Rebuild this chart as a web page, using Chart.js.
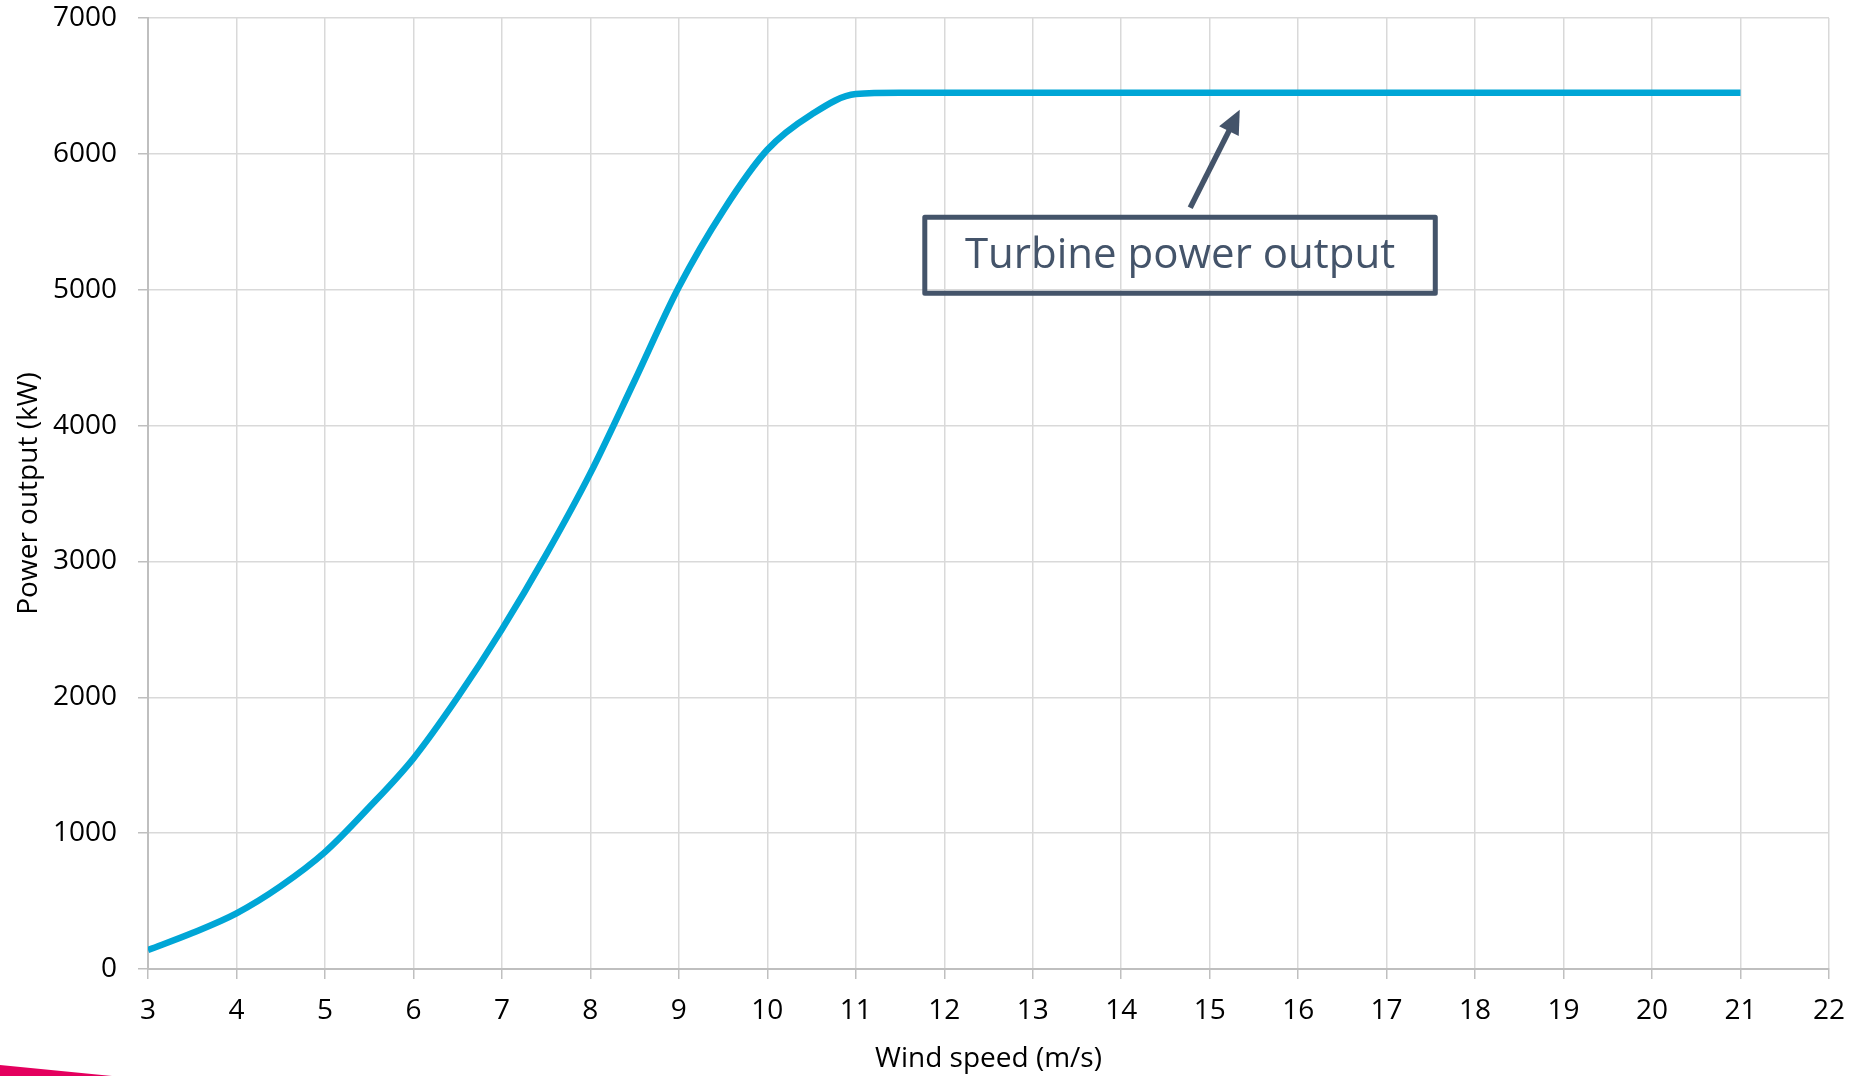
<!DOCTYPE html>
<html>
<head>
<meta charset="utf-8">
<script src="https://cdn.jsdelivr.net/npm/chart.js@4/dist/chart.umd.min.js"></script>
<style>
  html, body { margin: 0; padding: 0; background: #ffffff; }
  #wrap { width: 1860px; height: 1076px; position: relative; }
  canvas { display: block; }
</style>
</head>
<body>
<div id="wrap"><canvas id="c" width="1860" height="1076"></canvas></div>
<script>
// ---- Data ----
const windSpeed = [3, 3.5, 4, 4.5, 5, 5.5, 6, 6.5, 7, 7.5, 8, 8.5, 9, 9.5, 10, 10.5, 11, 11.5,
                   12, 12.5, 13, 13.5, 14, 14.5, 15, 15.5, 16, 16.5, 17, 17.5, 18, 18.5, 19, 19.5, 20, 20.5, 21];
const power = [140, 265, 410, 610, 860, 1190, 1550, 2000, 2500, 3050, 3650, 4330, 5020, 5580, 6030, 6290, 6440, 6450,
               6450, 6450, 6450, 6450, 6450, 6450, 6450, 6450, 6450, 6450, 6450, 6450, 6450, 6450, 6450, 6450, 6450, 6450, 6450];
const seriesLabel = 'Turbine power output';
const xTitle = 'Wind speed (m/s)';
const yTitle = 'Power output (kW)';
const xMin = 3, xMax = 22, xStep = 1;
const yMin = 0, yMax = 7000, yStep = 1000;

// ---- Annotation (callout box + arrow), in data coordinates ----
const callout = {
  text: 'Turbine power output',
  box: { x0: 11.78, x1: 17.55, y0: 5534, y1: 4974 },
  arrow: { fromX: 14.78, fromY: 5604, toX: 15.34, toY: 6325 }
};

const FONT = "'Open Sans', 'Noto Sans', sans-serif";
const AXIS_COLOR = '#BFBFBF';
const GRID_COLOR = '#D9D9D9';
const LINE_COLOR = '#00A6D6';
const NOTE_COLOR = '#44546A';

const bgPlugin = {
  id: 'bg',
  beforeDraw(chart) {
    const ctx = chart.ctx;
    ctx.save();
    ctx.fillStyle = '#ffffff';
    ctx.fillRect(0, 0, chart.width, chart.height);
    ctx.restore();
  }
};

const calloutPlugin = {
  id: 'callout',
  afterDraw(chart) {
    const ctx = chart.ctx;
    const xs = chart.scales.x, ys = chart.scales.y;
    const b = callout.box;
    const bx0 = xs.getPixelForValue(b.x0), bx1 = xs.getPixelForValue(b.x1);
    const by0 = ys.getPixelForValue(b.y0), by1 = ys.getPixelForValue(b.y1);
    ctx.save();
    // box
    ctx.strokeStyle = NOTE_COLOR;
    ctx.lineWidth = 5;
    ctx.lineJoin = 'round';
    ctx.strokeRect(bx0, by0, bx1 - bx0, by1 - by0);
    // text
    ctx.fillStyle = NOTE_COLOR;
    ctx.font = "42px " + FONT;
    ctx.textAlign = 'center';
    ctx.textBaseline = 'middle';
    ctx.fillText(callout.text, (bx0 + bx1) / 2, (by0 + by1) / 2 + 1);
    // arrow
    const a = callout.arrow;
    const fx = xs.getPixelForValue(a.fromX), fy = ys.getPixelForValue(a.fromY);
    const tx = xs.getPixelForValue(a.toX), ty = ys.getPixelForValue(a.toY);
    const dx = tx - fx, dy = ty - fy;
    const len = Math.hypot(dx, dy);
    const ux = dx / len, uy = dy / len;
    const px = -uy, py = ux;
    const headLen = 24, headHalf = 11;
    ctx.lineWidth = 5.5;
    ctx.lineCap = 'butt';
    ctx.beginPath();
    ctx.moveTo(fx, fy);
    ctx.lineTo(tx - ux * (headLen - 2), ty - uy * (headLen - 2));
    ctx.stroke();
    ctx.beginPath();
    ctx.moveTo(tx, ty);
    ctx.lineTo(tx - ux * headLen + px * headHalf, ty - uy * headLen + py * headHalf);
    ctx.lineTo(tx - ux * headLen - px * headHalf, ty - uy * headLen - py * headHalf);
    ctx.closePath();
    ctx.fill();
    // decorative slide corner wedge (bottom-left)
    ctx.fillStyle = '#E4005E';
    ctx.beginPath();
    ctx.moveTo(0, 1065);
    ctx.lineTo(112, 1076);
    ctx.lineTo(0, 1076);
    ctx.closePath();
    ctx.fill();
    ctx.restore();
  }
};

new Chart(document.getElementById('c'), {
  type: 'line',
  data: {
    datasets: [{
      label: seriesLabel,
      data: windSpeed.map((x, i) => ({ x: x, y: power[i] })),
      borderColor: LINE_COLOR,
      borderWidth: 6.5,
      pointRadius: 0,
      pointHoverRadius: 0,
      fill: false,
      cubicInterpolationMode: 'monotone'
    }]
  },
  options: {
    responsive: false,
    animation: false,
    devicePixelRatio: 1,
    layout: { padding: { left: 0, top: 0, right: 30, bottom: 0 } },
    plugins: {
      legend: { display: false },
      tooltip: { enabled: false },
      title: { display: false }
    },
    scales: {
      x: {
        type: 'linear',
        min: xMin, max: xMax,
        afterFit(scale) { scale.height = 107; },
        ticks: {
          stepSize: xStep,
          color: '#000000',
          font: { family: FONT, size: 28 },
          padding: 15,
          maxRotation: 0,
          autoSkip: false,
          callback: (v) => String(v)
        },
        grid: { color: GRID_COLOR, lineWidth: 1.5, tickLength: 10, tickColor: AXIS_COLOR, tickWidth: 1.5 },
        border: { color: AXIS_COLOR, width: 2 },
        title: {
          display: true, text: xTitle, color: '#000000',
          font: { family: FONT, size: 28 },
          padding: { top: 0, bottom: 0 }
        }
      },
      y: {
        type: 'linear',
        min: yMin, max: yMax,
        afterFit(scale) { scale.width = 148; scale.paddingTop = 18; scale.paddingBottom = 18; },
        ticks: {
          stepSize: yStep,
          color: '#000000',
          font: { family: FONT, size: 28 },
          padding: 21,
          callback: (v) => String(v)
        },
        grid: { color: GRID_COLOR, lineWidth: 1.5, tickLength: 10, tickColor: AXIS_COLOR, tickWidth: 1.5 },
        border: { color: AXIS_COLOR, width: 2 },
        title: {
          display: true, text: yTitle, color: '#000000',
          font: { family: FONT, size: 28 },
          padding: { top: 12, bottom: 0 }
        }
      }
    }
  },
  plugins: [bgPlugin, calloutPlugin]
});
</script>
</body>
</html>
